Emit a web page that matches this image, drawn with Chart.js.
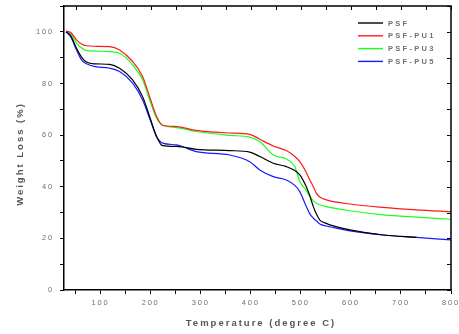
<!DOCTYPE html>
<html>
<head>
<meta charset="utf-8">
<script src="https://cdn.jsdelivr.net/npm/chart.js@4.4.0/dist/chart.umd.min.js"></script>
<style>
  html, body { margin: 0; padding: 0; background: #fff; }
</style>
</head>
<body>
<canvas id="tgaChart" width="459" height="334"></canvas>
<script>
// 온도 (degree C) - 모든 곡선 공통
const temps = [31, 40, 52, 62, 72, 90, 118, 138, 164, 184, 198, 212, 224, 252, 291, 358, 398, 418, 445, 471, 488, 498, 511, 518, 525, 531, 538, 551, 558, 598, 665, 731, 800];

// 무게 잔량 (%) - 그림에서 읽은 값
const psf    = [100, 98.6, 93.6, 90.2, 88.3, 87.6, 87.4, 85.9, 81.4, 74.9, 67.2, 59.4, 55.9, 55.6, 54.5, 54.0, 53.4, 51.7, 49.1, 47.8, 46.3, 44.6, 40.0, 36.5, 32.3, 29.5, 27.1, 25.8, 25.2, 23.3, 21.3, 20.4, null];
const psfPu1 = [100.3, 99.8, 96.9, 95.3, 94.6, 94.4, 94.3, 93.0, 88.5, 82.7, 74.9, 67.2, 63.8, 63.3, 61.8, 60.8, 60.3, 58.4, 55.8, 54.0, 51.7, 49.7, 45.5, 42.6, 40.0, 37.5, 36.0, 34.9, 34.5, 33.3, 32.0, 31.0, 30.3];
const psfPu3 = [100, 99.5, 95.6, 93.8, 92.7, 92.5, 92.3, 91.7, 87.2, 81.4, 73.6, 66.5, 63.8, 62.9, 61.4, 59.9, 59.2, 57.5, 52.3, 50.7, 47.8, 42.0, 38.6, 36.2, 34.5, 33.6, 33.0, 32.3, 32.0, 30.7, 29.1, 28.2, 27.4];
const psfPu5 = [100, 98.2, 93.0, 89.1, 87.6, 86.5, 85.9, 84.6, 80.1, 73.6, 66.5, 59.4, 56.9, 56.2, 53.6, 52.3, 49.7, 46.5, 43.9, 42.6, 40.5, 38.1, 32.3, 29.5, 27.8, 26.8, 25.6, 24.8, 24.5, 22.9, 21.3, 20.4, 19.4];

const seriesLabels = ['PSF', 'PSF-PU1', 'PSF-PU3', 'PSF-PU5'];
const seriesValues = [psf, psfPu1, psfPu3, psfPu5];
const seriesColors = ['#000000', '#ff1a1a', '#1aff1a', '#1a1aff'];

// 눈금 라벨
const xTickLabels = [100, 200, 300, 400, 500, 600, 700, 800];
const yTickLabels = [0, 20, 40, 60, 80, 100];

const LABEL_GRAY = '#6e6e6e';
const TITLE_GRAY = '#555555';

// 테두리(위/오른쪽), 안쪽 눈금, 범례, 축 제목
const framePlugin = {
  id: 'frame',
  beforeDraw(chart) {
    chart.ctx.letterSpacing = '1.8px';
  },
  afterDraw(chart) {
    const { ctx, chartArea: a, scales: { x, y } } = chart;
    ctx.save();
    ctx.strokeStyle = '#000';
    ctx.lineWidth = 1.5;
    ctx.beginPath();
    ctx.moveTo(a.left, a.top);
    ctx.lineTo(a.right, a.top);
    ctx.lineTo(a.right, a.bottom);
    ctx.stroke();

    ctx.lineWidth = 1;
    ctx.beginPath();
    x.ticks.forEach(t => {
      const px = Math.round(x.getPixelForValue(t.value)) + 0.5;
      ctx.moveTo(px, a.top);
      ctx.lineTo(px, a.top + 4);
    });
    y.ticks.forEach(t => {
      const py = Math.round(y.getPixelForValue(t.value)) + 0.5;
      ctx.moveTo(a.right, py);
      ctx.lineTo(a.right - 4, py);
    });
    ctx.stroke();

    // 범례
    ctx.font = 'bold 7.5px "Liberation Sans", Arial, sans-serif';
    ctx.letterSpacing = '2.3px';
    ctx.textBaseline = 'middle';
    ctx.textAlign = 'left';
    chart.data.datasets.forEach((ds, i) => {
      const ly = 23 + i * 12.8;
      ctx.strokeStyle = ds.borderColor;
      ctx.lineWidth = 1.4;
      ctx.beginPath();
      ctx.moveTo(358, ly);
      ctx.lineTo(383, ly);
      ctx.stroke();
      ctx.fillStyle = '#707070';
      ctx.fillText(ds.label, 388, ly + 0.5);
    });

    // 축 제목
    ctx.font = 'bold 9.5px "Liberation Sans", Arial, sans-serif';
    ctx.letterSpacing = '2px';
    ctx.fillStyle = TITLE_GRAY;
    ctx.textAlign = 'center';
    ctx.fillText('Temperature (degree C)', 261, 323);

    ctx.translate(20, 154);
    ctx.rotate(-Math.PI / 2);
    ctx.fillText('Weight Loss (%)', 0, 0);
    ctx.restore();
  }
};

const datasets = seriesLabels.map((label, i) => ({
  label: label,
  data: temps.map((t, j) => ({ x: t, y: seriesValues[i][j] })),
  borderColor: seriesColors[i],
  backgroundColor: seriesColors[i],
  borderWidth: 1.2,
  pointRadius: 0,
  cubicInterpolationMode: 'monotone',
  spanGaps: false,
  fill: false
}));

new Chart(document.getElementById('tgaChart'), {
  type: 'line',
  data: { datasets: datasets },
  options: {
    responsive: false,
    animation: false,
    layout: { padding: { left: 0, right: 8, top: 6, bottom: 0 } },
    plugins: {
      legend: { display: false },
      tooltip: { enabled: false }
    },
    scales: {
      x: {
        type: 'linear',
        min: 27,
        max: 800,
        afterFit(scale) {
          scale.height = 44;
          scale.paddingLeft = 0;
          scale.paddingRight = 0;
        },
        border: { color: '#000', width: 1.5 },
        grid: { drawOnChartArea: false, tickLength: 4, color: '#000', tickWidth: 1 },
        ticks: {
          stepSize: 50,
          includeBounds: false,
          autoSkip: false,
          maxRotation: 0,
          padding: 4,
          color: LABEL_GRAY,
          font: { family: '"Liberation Sans", Arial, sans-serif', size: 7.5 },
          callback: v => xTickLabels.includes(v) ? String(v) : ''
        }
      },
      y: {
        min: 0,
        max: 110,
        afterFit(scale) {
          scale.width = 64;
          scale.paddingTop = 0;
          scale.paddingBottom = 0;
        },
        border: { color: '#000', width: 1.5 },
        grid: { drawOnChartArea: false, tickLength: 4, color: '#000', tickWidth: 1 },
        ticks: {
          stepSize: 10,
          autoSkip: false,
          padding: 6,
          color: LABEL_GRAY,
          font: { family: '"Liberation Sans", Arial, sans-serif', size: 7.5 },
          callback: v => yTickLabels.includes(v) ? String(v) : ''
        }
      }
    }
  },
  plugins: [framePlugin]
});
</script>
</body>
</html>
